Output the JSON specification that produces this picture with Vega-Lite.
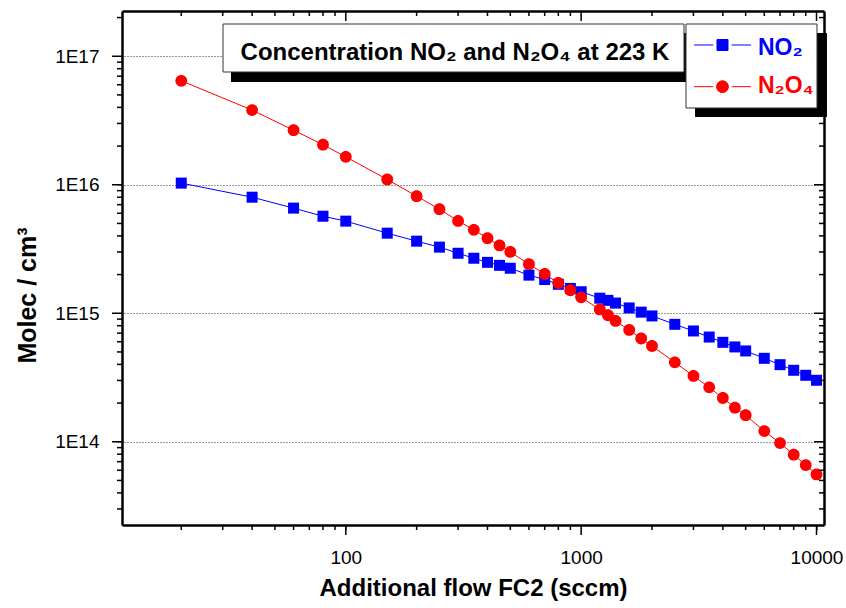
{
  "$schema": "https://vega.github.io/schema/vega-lite/v6.json",
  "autosize": {"type": "none"},
  "width": 702,
  "height": 514,
  "padding": {"left": 122, "top": 11, "right": 22, "bottom": 83},
  "background": "white",
  "config": {
    "view": {"stroke": null},
    "font": "Liberation Sans"
  },
  "title": {
    "text": "Concentration NO₂ and N₂O₄  at 223 K",
    "font": "Liberation Sans",
    "fontSize": 24,
    "fontWeight": "bold",
    "color": "black",
    "anchor": "middle",
    "frame": "group",
    "orient": "top",
    "baseline": "alphabetic",
    "offset": -76,
    "dx": -18
  },
  "datasets": {
    "conc": [
      {"flow": 20, "series": "NO₂", "conc": 1.03e16},
      {"flow": 40, "series": "NO₂", "conc": 8.0e15},
      {"flow": 60, "series": "NO₂", "conc": 6.58e15},
      {"flow": 80, "series": "NO₂", "conc": 5.69e15},
      {"flow": 100, "series": "NO₂", "conc": 5.21e15},
      {"flow": 150, "series": "NO₂", "conc": 4.2e15},
      {"flow": 200, "series": "NO₂", "conc": 3.64e15},
      {"flow": 250, "series": "NO₂", "conc": 3.27e15},
      {"flow": 300, "series": "NO₂", "conc": 2.93e15},
      {"flow": 350, "series": "NO₂", "conc": 2.68e15},
      {"flow": 400, "series": "NO₂", "conc": 2.49e15},
      {"flow": 450, "series": "NO₂", "conc": 2.36e15},
      {"flow": 500, "series": "NO₂", "conc": 2.24e15},
      {"flow": 600, "series": "NO₂", "conc": 1.98e15},
      {"flow": 700, "series": "NO₂", "conc": 1.83e15},
      {"flow": 800, "series": "NO₂", "conc": 1.68e15},
      {"flow": 900, "series": "NO₂", "conc": 1.56e15},
      {"flow": 1000, "series": "NO₂", "conc": 1.47e15},
      {"flow": 1200, "series": "NO₂", "conc": 1.31e15},
      {"flow": 1300, "series": "NO₂", "conc": 1.26e15},
      {"flow": 1400, "series": "NO₂", "conc": 1.2e15},
      {"flow": 1600, "series": "NO₂", "conc": 1.1e15},
      {"flow": 1800, "series": "NO₂", "conc": 1.02e15},
      {"flow": 2000, "series": "NO₂", "conc": 9.53e14},
      {"flow": 2500, "series": "NO₂", "conc": 8.2e14},
      {"flow": 3000, "series": "NO₂", "conc": 7.28e14},
      {"flow": 3500, "series": "NO₂", "conc": 6.53e14},
      {"flow": 4000, "series": "NO₂", "conc": 5.94e14},
      {"flow": 4500, "series": "NO₂", "conc": 5.47e14},
      {"flow": 5000, "series": "NO₂", "conc": 5.09e14},
      {"flow": 6000, "series": "NO₂", "conc": 4.46e14},
      {"flow": 7000, "series": "NO₂", "conc": 3.98e14},
      {"flow": 8000, "series": "NO₂", "conc": 3.6e14},
      {"flow": 9000, "series": "NO₂", "conc": 3.29e14},
      {"flow": 10000, "series": "NO₂", "conc": 3.01e14},
      {"flow": 20, "series": "N₂O₄", "conc": 6.44e16},
      {"flow": 40, "series": "N₂O₄", "conc": 3.81e16},
      {"flow": 60, "series": "N₂O₄", "conc": 2.66e16},
      {"flow": 80, "series": "N₂O₄", "conc": 2.05e16},
      {"flow": 100, "series": "N₂O₄", "conc": 1.65e16},
      {"flow": 150, "series": "N₂O₄", "conc": 1.1e16},
      {"flow": 200, "series": "N₂O₄", "conc": 8.15e15},
      {"flow": 250, "series": "N₂O₄", "conc": 6.46e15},
      {"flow": 300, "series": "N₂O₄", "conc": 5.23e15},
      {"flow": 350, "series": "N₂O₄", "conc": 4.46e15},
      {"flow": 400, "series": "N₂O₄", "conc": 3.84e15},
      {"flow": 450, "series": "N₂O₄", "conc": 3.37e15},
      {"flow": 500, "series": "N₂O₄", "conc": 3.0e15},
      {"flow": 600, "series": "N₂O₄", "conc": 2.41e15},
      {"flow": 700, "series": "N₂O₄", "conc": 2.02e15},
      {"flow": 800, "series": "N₂O₄", "conc": 1.72e15},
      {"flow": 900, "series": "N₂O₄", "conc": 1.51e15},
      {"flow": 1000, "series": "N₂O₄", "conc": 1.33e15},
      {"flow": 1200, "series": "N₂O₄", "conc": 1.07e15},
      {"flow": 1300, "series": "N₂O₄", "conc": 9.65e14},
      {"flow": 1400, "series": "N₂O₄", "conc": 8.71e14},
      {"flow": 1600, "series": "N₂O₄", "conc": 7.42e14},
      {"flow": 1800, "series": "N₂O₄", "conc": 6.36e14},
      {"flow": 2000, "series": "N₂O₄", "conc": 5.56e14},
      {"flow": 2500, "series": "N₂O₄", "conc": 4.15e14},
      {"flow": 3000, "series": "N₂O₄", "conc": 3.25e14},
      {"flow": 3500, "series": "N₂O₄", "conc": 2.65e14},
      {"flow": 4000, "series": "N₂O₄", "conc": 2.19e14},
      {"flow": 4500, "series": "N₂O₄", "conc": 1.84e14},
      {"flow": 5000, "series": "N₂O₄", "conc": 1.61e14},
      {"flow": 6000, "series": "N₂O₄", "conc": 1.21e14},
      {"flow": 7000, "series": "N₂O₄", "conc": 9.77e13},
      {"flow": 8000, "series": "N₂O₄", "conc": 7.94e13},
      {"flow": 9000, "series": "N₂O₄", "conc": 6.59e13},
      {"flow": 10000, "series": "N₂O₄", "conc": 5.57e13}
    ],
    "xticks": [
      {"v": 20, "major": false}, {"v": 30, "major": false}, {"v": 40, "major": false}, {"v": 50, "major": false},
      {"v": 60, "major": false}, {"v": 70, "major": false}, {"v": 80, "major": false}, {"v": 90, "major": false},
      {"v": 100, "major": true},
      {"v": 200, "major": false}, {"v": 300, "major": false}, {"v": 400, "major": false}, {"v": 500, "major": false},
      {"v": 600, "major": false}, {"v": 700, "major": false}, {"v": 800, "major": false}, {"v": 900, "major": false},
      {"v": 1000, "major": true},
      {"v": 2000, "major": false}, {"v": 3000, "major": false}, {"v": 4000, "major": false}, {"v": 5000, "major": false},
      {"v": 6000, "major": false}, {"v": 7000, "major": false}, {"v": 8000, "major": false}, {"v": 9000, "major": false},
      {"v": 10000, "major": true}
    ],
    "yticks": [
      {"v": 3e13, "major": false}, {"v": 4e13, "major": false}, {"v": 5e13, "major": false}, {"v": 6e13, "major": false},
      {"v": 7e13, "major": false}, {"v": 8e13, "major": false}, {"v": 9e13, "major": false},
      {"v": 1e14, "major": true},
      {"v": 2e14, "major": false}, {"v": 3e14, "major": false}, {"v": 4e14, "major": false}, {"v": 5e14, "major": false},
      {"v": 6e14, "major": false}, {"v": 7e14, "major": false}, {"v": 8e14, "major": false}, {"v": 9e14, "major": false},
      {"v": 1e15, "major": true},
      {"v": 2e15, "major": false}, {"v": 3e15, "major": false}, {"v": 4e15, "major": false}, {"v": 5e15, "major": false},
      {"v": 6e15, "major": false}, {"v": 7e15, "major": false}, {"v": 8e15, "major": false}, {"v": 9e15, "major": false},
      {"v": 1e16, "major": true},
      {"v": 2e16, "major": false}, {"v": 3e16, "major": false}, {"v": 4e16, "major": false}, {"v": 5e16, "major": false},
      {"v": 6e16, "major": false}, {"v": 7e16, "major": false}, {"v": 8e16, "major": false}, {"v": 9e16, "major": false},
      {"v": 1e17, "major": true},
      {"v": 2e17, "major": false}
    ]
  },
  "resolve": {"axis": {"x": "independent", "y": "independent"}},
  "layer": [
    {
      "data": {"values": [{}]},
      "mark": {"type": "point", "opacity": 0},
      "encoding": {
        "x": {"datum": 100, "type": "quantitative", "scale": {"type": "log", "domain": [11.2, 10760], "nice": false}, "axis": null},
        "y": {
          "datum": 1e15, "type": "quantitative",
          "scale": {"type": "log", "domain": [2.25e13, 2.25e17], "nice": false},
          "axis": {
            "orient": "right",
            "values": [1e14, 1e15, 1e16, 1e17],
            "labels": false, "title": null, "ticks": false,
            "domainColor": "black", "domainWidth": 2.5,
            "grid": true, "gridColor": "#333333", "gridWidth": 1, "gridOpacity": 1, "gridDash": [1, 2]
          }
        }
      }
    },
    {
      "data": {"name": "conc"},
      "layer": [
        {
          "mark": {"type": "line", "strokeWidth": 1},
          "encoding": {
            "x": {
              "field": "flow", "type": "quantitative",
              "scale": {"type": "log", "domain": [11.2, 10760], "nice": false},
              "axis": {
                "orient": "bottom",
                "values": [100, 1000, 10000],
                "labelExpr": "format(datum.value, 'd')",
                "ticks": true, "tickSize": 5,
                "domainColor": "black", "domainWidth": 2.5,
                "grid": false,
                "labelFont": "Liberation Sans", "labelFontSize": 19, "labelColor": "black",
                "labelPadding": 18, "labelFlush": false, "labelOverlap": false, "labelBound": false,
                "title": "Additional flow FC2 (sccm)",
                "titleFont": "Liberation Sans", "titleFontSize": 24, "titleFontWeight": "bold", "titleColor": "black",
                "titleBaseline": "alphabetic", "titleY": 70
              }
            },
            "y": {
              "field": "conc", "type": "quantitative",
              "scale": {"type": "log", "domain": [2.25e13, 2.25e17], "nice": false},
              "axis": {
                "orient": "left",
                "values": [1e14, 1e15, 1e16, 1e17],
                "labelExpr": "'1E' + round(log(datum.value)/LN10)",
                "ticks": true, "tickSize": 5,
                "domainColor": "black", "domainWidth": 2.5,
                "grid": false,
                "labelFont": "Liberation Sans", "labelFontSize": 19, "labelColor": "black",
                "labelPadding": 18, "labelOverlap": false, "labelBound": false, "labelFlush": false,
                "title": "Molec / cm³",
                "titleFont": "Liberation Sans", "titleFontSize": 25, "titleFontWeight": "bold", "titleColor": "black",
                "titleBaseline": "alphabetic", "titleAngle": -90, "titleX": -87, "titleY": 284, "titleAlign": "center"
              }
            },
            "stroke": {
              "field": "series", "type": "nominal",
              "scale": {"domain": ["NO₂", "N₂O₄"], "range": ["#0000ff", "#ff0000"]},
              "legend": null
            }
          }
        },
        {
          "mark": {"type": "point", "filled": true, "opacity": 1, "size": 900},
          "encoding": {
            "x": {"field": "flow", "type": "quantitative", "scale": {"type": "log", "domain": [11.2, 10760], "nice": false}},
            "y": {"field": "conc", "type": "quantitative", "scale": {"type": "log", "domain": [2.25e13, 2.25e17], "nice": false}},
            "shape": {
              "field": "series", "type": "nominal",
              "scale": {
                "domain": ["NO₂", "N₂O₄"],
                "range": [
                  "M-0.367,-0.367L0.367,-0.367L0.367,0.367L-0.367,0.367Z",
                  "M-0.393,0A0.393,0.393,0,1,0,0.393,0A0.393,0.393,0,1,0,-0.393,0Z"
                ]
              },
              "legend": null
            },
            "color": {
              "field": "series", "type": "nominal",
              "scale": {"domain": ["NO₂", "N₂O₄"], "range": ["#0000ff", "#ff0000"]},
              "legend": null
            }
          }
        }
      ]
    },
    {
      "data": {"name": "xticks"},
      "mark": {"type": "point", "filled": false, "color": "black", "stroke": "black", "strokeWidth": 1.5, "opacity": 1, "size": 400},
      "encoding": {
        "x": {"field": "v", "type": "quantitative", "scale": {"type": "log", "domain": [11.2, 10760], "nice": false}, "axis": {"orient": "top", "labels": false, "ticks": false, "grid": false, "title": null, "values": [100], "domainColor": "black", "domainWidth": 2.5}},
        "y": {"datum": 2.25e13, "type": "quantitative", "scale": {"type": "log", "domain": [2.25e13, 2.25e17], "nice": false}, "axis": null},
        "shape": {"condition": {"test": "datum.major", "value": "M0,0L0,1"}, "value": "M0,0L0,0.5"}
      }
    },
    {
      "data": {"name": "xticks"},
      "mark": {"type": "point", "filled": false, "color": "black", "stroke": "black", "strokeWidth": 1.5, "opacity": 1, "size": 400},
      "encoding": {
        "x": {"field": "v", "type": "quantitative", "scale": {"type": "log", "domain": [11.2, 10760], "nice": false}, "axis": null},
        "y": {"datum": 2.25e17, "type": "quantitative", "scale": {"type": "log", "domain": [2.25e13, 2.25e17], "nice": false}, "axis": null},
        "shape": {"condition": {"test": "datum.major", "value": "M0,0L0,1"}, "value": "M0,0L0,0.5"}
      }
    },
    {
      "data": {"name": "yticks"},
      "mark": {"type": "point", "filled": false, "color": "black", "stroke": "black", "strokeWidth": 1.5, "opacity": 1, "size": 400},
      "encoding": {
        "y": {"field": "v", "type": "quantitative", "scale": {"type": "log", "domain": [2.25e13, 2.25e17], "nice": false}, "axis": null},
        "x": {"datum": 11.2, "type": "quantitative", "scale": {"type": "log", "domain": [11.2, 10760], "nice": false}, "axis": null},
        "shape": {"condition": {"test": "datum.major", "value": "M0,0L-1,0"}, "value": "M0,0L-0.5,0"}
      }
    },
    {
      "data": {"name": "yticks"},
      "mark": {"type": "point", "filled": false, "color": "black", "stroke": "black", "strokeWidth": 1.5, "opacity": 1, "size": 400},
      "encoding": {
        "y": {"field": "v", "type": "quantitative", "scale": {"type": "log", "domain": [2.25e13, 2.25e17], "nice": false}, "axis": null},
        "x": {"datum": 10760, "type": "quantitative", "scale": {"type": "log", "domain": [11.2, 10760], "nice": false}, "axis": null},
        "shape": {"condition": {"test": "datum.major", "value": "M0,0L-1,0"}, "value": "M0,0L-0.5,0"}
      }
    },
    {
      "data": {"values": [{}]},
      "mark": {"type": "rect", "fill": "black"},
      "encoding": {
        "x": {"datum": 32.53, "type": "quantitative", "scale": {"type": "log", "domain": [11.2, 10760], "nice": false}, "axis": null},
        "x2": {"datum": 2987},
        "y": {"datum": 1.517e17, "type": "quantitative", "scale": {"type": "log", "domain": [2.25e13, 2.25e17], "nice": false}, "axis": null},
        "y2": {"datum": 6.304e16}
      }
    },
    {
      "data": {"values": [{}]},
      "mark": {"type": "rect", "fill": "white", "stroke": "#333333", "strokeWidth": 1},
      "encoding": {
        "x": {"datum": 30.09, "type": "quantitative", "scale": {"type": "log", "domain": [11.2, 10760], "nice": false}, "axis": null},
        "x2": {"datum": 2735},
        "y": {"datum": 1.782e17, "type": "quantitative", "scale": {"type": "log", "domain": [2.25e13, 2.25e17], "nice": false}, "axis": null},
        "y2": {"datum": 7.543e16}
      }
    },
    {
      "data": {"values": [{}]},
      "mark": {"type": "rect", "fill": "black"},
      "encoding": {
        "x": {"datum": 3046, "type": "quantitative", "scale": {"type": "log", "domain": [11.2, 10760], "nice": false}, "axis": null},
        "x2": {"datum": 11078},
        "y": {"datum": 1.517e17, "type": "quantitative", "scale": {"type": "log", "domain": [2.25e13, 2.25e17], "nice": false}, "axis": null},
        "y2": {"datum": 3.368e16}
      }
    },
    {
      "data": {"values": [{}]},
      "mark": {"type": "rect", "fill": "white", "stroke": "#333333", "strokeWidth": 1},
      "encoding": {
        "x": {"datum": 2789, "type": "quantitative", "scale": {"type": "log", "domain": [11.2, 10760], "nice": false}, "axis": null},
        "x2": {"datum": 10047},
        "y": {"datum": 1.782e17, "type": "quantitative", "scale": {"type": "log", "domain": [2.25e13, 2.25e17], "nice": false}, "axis": null},
        "y2": {"datum": 3.957e16}
      }
    },
    {
      "data": {"values": [{}]},
      "mark": {"type": "point", "filled": true, "opacity": 1, "size": 900, "fill": "#0000ff", "stroke": "#0000ff", "strokeWidth": 1,
               "shape": "M-1.9,0L-0.61,0M0.61,0L1.9,0M-0.367,-0.367L0.367,-0.367L0.367,0.367L-0.367,0.367Z"},
      "encoding": {
        "x": {"datum": 3986, "type": "quantitative", "scale": {"type": "log", "domain": [11.2, 10760], "nice": false}, "axis": null},
        "y": {"datum": 1.2237e17, "type": "quantitative", "scale": {"type": "log", "domain": [2.25e13, 2.25e17], "nice": false}, "axis": null}
      }
    },
    {
      "data": {"values": [{}]},
      "mark": {"type": "point", "filled": true, "opacity": 1, "size": 900, "fill": "#ff0000", "stroke": "#ff0000", "strokeWidth": 1,
               "shape": "M-1.9,0L-0.61,0M0.61,0L1.9,0M-0.393,0A0.393,0.393,0,1,0,0.393,0A0.393,0.393,0,1,0,-0.393,0Z"},
      "encoding": {
        "x": {"datum": 3986, "type": "quantitative", "scale": {"type": "log", "domain": [11.2, 10760], "nice": false}, "axis": null},
        "y": {"datum": 5.797e16, "type": "quantitative", "scale": {"type": "log", "domain": [2.25e13, 2.25e17], "nice": false}, "axis": null}
      }
    },
    {
      "data": {"values": [{}]},
      "mark": {"type": "text", "text": "NO₂", "font": "Liberation Sans", "fontSize": 23, "fontWeight": "bold", "color": "#0000ff", "align": "left", "baseline": "alphabetic"},
      "encoding": {
        "x": {"datum": 5640, "type": "quantitative", "scale": {"type": "log", "domain": [11.2, 10760], "nice": false}, "axis": null},
        "y": {"datum": 1.0228e17, "type": "quantitative", "scale": {"type": "log", "domain": [2.25e13, 2.25e17], "nice": false}, "axis": null}
      }
    },
    {
      "data": {"values": [{}]},
      "mark": {"type": "text", "text": "N₂O₄", "font": "Liberation Sans", "fontSize": 23, "fontWeight": "bold", "color": "#ff0000", "align": "left", "baseline": "alphabetic"},
      "encoding": {
        "x": {"datum": 5640, "type": "quantitative", "scale": {"type": "log", "domain": [11.2, 10760], "nice": false}, "axis": null},
        "y": {"datum": 5.15e16, "type": "quantitative", "scale": {"type": "log", "domain": [2.25e13, 2.25e17], "nice": false}, "axis": null}
      }
    }
  ]
}
